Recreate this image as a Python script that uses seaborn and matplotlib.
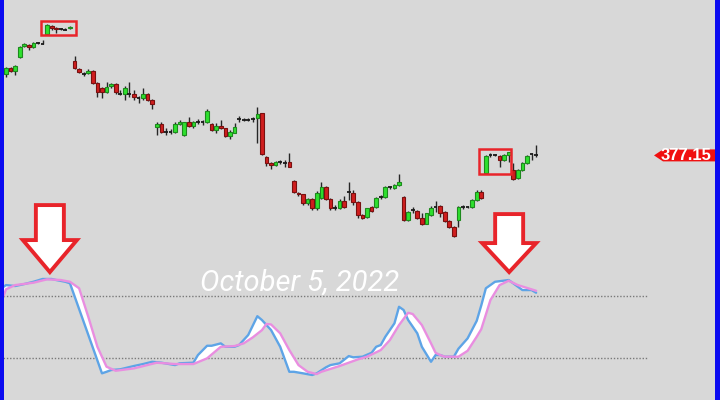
import numpy as np
import matplotlib
matplotlib.use("Agg")
import matplotlib.pyplot as plt
from matplotlib.patches import Rectangle, Polygon
from matplotlib.transforms import Affine2D, blended_transform_factory
import seaborn as sns

# hourly SPY bars, left to right
opens = [
    397.5, 399.0, 398.25, 401.75, 404.5, 404.75, 404.25, 405.12, 405.25, 407.5,
    409.5, 409.0, 408.62, 408.75, 409.0, 400.75, 398.75, 397.75, 397.75, 398.25,
    395.25, 394.0, 392.88, 394.5, 395.0, 392.75, 392.38, 392.5, 392.62, 391.75,
    391.38, 392.5, 391.0, 384.25, 385.12, 383.12, 383.0, 383.0, 385.12, 382.25,
    385.4, 384.5, 385.62, 385.38, 385.4, 384.9, 383.5, 384.5, 383.9, 382.1,
    382.8, 386.12, 386.25, 386.0, 386.12, 386.4, 387.7, 376.7, 375.3, 374.8,
    375.5, 375.4, 375.5, 370.8, 367.8, 367.5, 365.2, 366.2, 363.9, 366.4,
    369.2, 366.25, 364.0, 363.9, 365.75, 368.12, 367.7, 365.6, 362.25, 361.7,
    364.2, 364.3, 366.88, 366.8, 369.25, 368.9, 369.75, 366.8, 361.0, 363.5,
    363.3, 361.4, 360.0, 362.25, 364.38, 364.5, 363.1, 360.8, 359.3, 361.0,
    364.2, 364.25, 364.2, 366.0, 368.1, 372.7, 377.25, 377.2, 377.0, 376.0,
    377.25, 373.5, 371.4, 373.5, 375.2, 377.25, 377.25]
highs = [
    399.25, 399.25, 399.75, 404.5, 405.25, 405.0, 405.5, 405.5, 406.0, 410.0,
    409.75, 409.25, 409.0, 409.0, 409.5, 402.0, 399.0, 398.0, 398.75, 398.5,
    395.5, 394.25, 395.5, 395.25, 395.25, 393.5, 394.38, 395.5, 393.5, 391.88,
    394.0, 392.75, 391.25, 385.62, 385.62, 384.0, 383.75, 385.5, 385.88, 385.62,
    386.8, 385.75, 386.2, 386.0, 388.7, 385.2, 385.2, 386.0, 384.1, 383.5,
    385.3, 387.0, 386.5, 386.38, 386.7, 389.2, 387.8, 377.0, 375.6, 375.75,
    375.88, 376.0, 377.7, 371.0, 368.1, 367.62, 366.5, 366.5, 368.25, 370.5,
    369.5, 366.5, 364.75, 366.25, 367.0, 370.6, 368.5, 365.75, 362.5, 364.12,
    364.5, 366.75, 367.25, 369.5, 369.62, 369.88, 372.4, 367.0, 363.25, 364.3,
    363.5, 362.75, 362.75, 364.5, 365.8, 364.75, 363.25, 361.0, 359.5, 364.5,
    364.75, 364.62, 366.25, 368.38, 368.38, 377.25, 377.75, 377.62, 377.25, 377.5,
    378.1, 375.25, 373.75, 375.4, 377.25, 377.7, 379.75]
lows = [
    396.75, 398.0, 397.25, 401.5, 404.25, 403.5, 404.0, 405.0, 405.0, 407.25,
    408.5, 407.75, 408.5, 408.5, 408.75, 398.75, 397.75, 397.0, 397.5, 395.0,
    391.75, 391.5, 392.75, 394.0, 392.5, 392.25, 391.0, 391.75, 391.0, 390.25,
    391.0, 390.75, 388.75, 382.25, 382.75, 382.25, 382.5, 382.75, 384.75, 382.1,
    384.3, 384.0, 385.0, 384.75, 385.2, 383.3, 382.8, 383.75, 381.8, 381.25,
    382.7, 385.6, 385.75, 385.75, 385.6, 380.3, 377.3, 374.5, 373.7, 374.5,
    375.0, 374.25, 374.25, 367.75, 367.0, 364.75, 364.75, 363.5, 363.5, 366.25,
    366.0, 363.5, 363.5, 363.75, 364.12, 366.0, 364.75, 361.5, 361.25, 361.5,
    363.0, 364.0, 366.25, 366.62, 368.75, 368.75, 369.5, 360.75, 360.75, 362.7,
    361.25, 359.8, 359.88, 362.0, 363.1, 361.8, 360.6, 359.1, 356.75, 359.3,
    363.75, 363.88, 364.0, 365.75, 366.25, 372.5, 376.75, 376.88, 374.3, 375.75,
    375.5, 371.0, 371.25, 373.25, 375.0, 376.0, 376.8]
closes = [
    399.0, 398.25, 399.5, 404.25, 405.0, 404.25, 405.25, 405.25, 405.12, 409.75,
    409.12, 408.75, 408.75, 408.62, 409.25, 399.0, 398.0, 397.62, 398.25, 395.25,
    392.88, 392.88, 394.25, 395.0, 392.88, 392.62, 394.12, 392.38, 391.75, 391.62,
    392.5, 391.0, 390.0, 385.12, 383.12, 383.0, 383.12, 385.12, 385.62, 385.4,
    384.5, 385.6, 385.5, 385.5, 388.3, 383.5, 384.5, 383.9, 382.1, 383.1,
    384.2, 386.25, 386.12, 385.9, 386.25, 387.4, 377.5, 375.3, 374.75, 375.5,
    375.4, 375.3, 374.3, 368.1, 367.5, 365.2, 366.25, 363.9, 367.8, 369.2,
    366.25, 363.9, 363.88, 365.8, 364.3, 368.0, 365.6, 362.25, 361.4, 363.9,
    363.3, 366.4, 366.75, 369.2, 369.2, 369.75, 370.6, 361.0, 363.1, 363.4,
    361.4, 360.0, 362.7, 364.1, 364.25, 362.8, 360.8, 359.3, 357.0, 364.3,
    364.25, 364.2, 366.0, 368.1, 366.4, 377.0, 377.2, 377.25, 376.0, 377.25,
    377.9, 371.2, 373.5, 375.2, 377.0, 377.4, 377.15]

# stochastic %K (blue) and %D (pink), read at bar positions
k_bar = [-1, 0, 2, 4, 6, 8, 10, 11, 13, 14, 21, 22, 23, 25, 28, 30, 32, 34, 37, 38,
         41, 42, 44, 45, 47, 48, 50, 51, 53, 55, 56, 58, 60, 62, 63, 65, 67, 68, 70, 71,
         73, 75, 76, 78, 80, 81, 82, 83, 85, 86, 87, 88, 90, 91, 93, 94, 95, 96, 98, 99,
         101, 103, 104, 105, 107, 110, 111, 113, 115, 116]
k_val = [87.5, 90.6, 89.7, 91.6, 93.8, 96.5, 96.5, 95.5, 93.8, 92.3, 5.2, 6.7, 8.4, 9.1, 12.3, 14.2, 16.4, 15.5, 13.2, 14.9,
         15.5, 22.9, 31.9, 31.9, 34.2, 30.9, 30.9, 32.6, 42.3, 60.5, 56.8, 47.1, 30.9, 6.7, 6.7, 5.2, 3.6, 5.2, 11.0, 13.2,
         14.9, 21.9, 20.7, 21.3, 25.1, 30.9, 32.6, 40.6, 53.6, 69.6, 66.5, 56.8, 43.9, 30.9, 16.4, 22.9, 22.9, 21.3, 21.3, 29.0,
         39.0, 56.0, 71.0, 87.5, 93.8, 95.5, 92.3, 85.8, 85.8, 83.2]
d_bar = [-1, 0, 2, 6, 9, 12, 14, 16, 18, 20, 22, 24, 28, 33, 37, 41, 44, 47, 50, 52,
         54, 56, 57, 58, 60, 62, 64, 66, 68, 69, 73, 77, 79, 82, 84, 86, 88, 89, 91, 93,
         94, 95, 96, 99, 101, 103, 104, 106, 108, 110, 112, 116]
d_val = [74.5, 86.5, 90.6, 92.9, 96.2, 95.5, 93.8, 87.5, 60.0, 30.9, 11.6, 7.7, 10.0, 15.5, 14.2, 14.2, 19.7, 30.9, 31.6, 34.2,
         40.0, 47.0, 53.0, 52.5, 43.9, 27.7, 13.2, 6.7, 4.5, 6.7, 12.3, 18.7, 21.3, 27.7, 37.4, 51.9, 63.8, 62.6, 51.9, 34.2,
         25.1, 22.9, 21.3, 21.3, 27.0, 40.6, 48.0, 76.1, 90.6, 94.8, 90.6, 85.1]
stoch_levels = [80, 20]

# highlighted bar runs (first, last) and arrow targets
box_runs = [(9, 14), (105, 110)]
box_pads = [(1.45, 1.3), (1.45, 0.6)]
arrow_bars = [9.6, 110.1]
date_text = "October 5, 2022"

BG = "#d8d8d8"
GREEN, GREEN_EDGE = "#2ee02e", "#1d8a1d"
RED, RED_EDGE = "#d01e1e", "#7a1010"
MARK = "#e8242a"

sns.set_theme(style="white")
plt.rcParams["font.family"] = ["DejaVu Sans"]

fig = plt.figure(figsize=(7.2, 4), dpi=100, facecolor=BG)
ax1 = fig.add_axes([0, 152 / 400, 1, 248 / 400], facecolor=BG)
ax2 = fig.add_axes([0, 0, 1, 152 / 400], facecolor=BG)
xlim = (-6 / 4.57, 714 / 4.57)
for ax in (ax1, ax2):
    ax.set_xlim(*xlim)
    ax.set_axis_off()
ax1.set_ylim(354, 416)
ax2.set_ylim(-20.6, 126.5)

# candles
o, h, l, c = (np.array(v) for v in (opens, highs, lows, closes))
bars = np.arange(len(o))
doji = np.abs(c - o) < 0.2
up = (c > o) & ~doji
dn = (c < o) & ~doji
ax1.vlines(bars, l, h, color="#262626", lw=1, zorder=2)
ax1.bar(bars[up], (c - o)[up], bottom=o[up], width=0.8, color=GREEN,
        edgecolor=GREEN_EDGE, lw=0.8, zorder=3)
ax1.bar(bars[dn], (o - c)[dn], bottom=c[dn], width=0.8, color=RED,
        edgecolor=RED_EDGE, lw=0.8, zorder=3)
ax1.hlines(c[doji], bars[doji] - 0.42, bars[doji] + 0.42, color="#1a1a1a", lw=1.3, zorder=3)

# boxes around the flat stretches
for (b0, b1), (pl, pr) in zip(box_runs, box_pads):
    sel = (bars >= b0) & (bars <= b1)
    lo, hi = l[sel].min() - 0.05, h[sel].max() + 0.7
    x0, x1 = b0 - pl, b1 + pr
    ax1.add_patch(Rectangle((x0, lo), x1 - x0, hi - lo, fill=False,
                            ec=MARK, lw=1.8, zorder=4))

# last price tag
tr = blended_transform_factory(ax1.transAxes, ax1.transData)
tx, ty = tr.transform((654 / 720, closes[-1]))
ax1.add_patch(Polygon([(0, 0), (9, 6), (62, 6), (62, -6), (9, -6)], closed=True,
                      fc="#f01010", ec="none", transform=Affine2D().translate(tx, ty),
                      clip_on=False, zorder=5))
ax1.text(686 / 720, closes[-1], f"{closes[-1]:.2f}", transform=tr, ha="center",
         va="center", color="white", fontsize=12, fontweight="bold",
         family=["Liberation Sans", "DejaVu Sans"], zorder=6)

# stochastic panel
ax2.hlines(stoch_levels, xlim[0], 140.3, colors="#7a7a7a", lw=1,
           linestyles=(0, (1, 1.3)), zorder=1)
ax2.fill(np.r_[k_bar, d_bar[::-1]], np.r_[k_val, d_val[::-1]], color="white",
         lw=0, zorder=2)
sns.lineplot(x=k_bar, y=k_val, ax=ax2, color="#5ea4e6", lw=1.7, estimator=None,
             sort=False, zorder=3)
sns.lineplot(x=d_bar, y=d_val, ax=ax2, color="#e98ee0", lw=1.7, estimator=None,
             sort=False, zorder=4)
ax2.set_axis_off()

fig.text(200 / 720, 1 - 291 / 400, date_text, ha="left", va="baseline",
         color="white", fontsize=21, style="italic",
         family=["Roboto", "DejaVu Sans"])

# down arrows over the two oscillator peaks
arrow_shapes = [(67, 32), (58, 29)]
for b, (tot, head) in zip(arrow_bars, arrow_shapes):
    ax_, ay_ = ax2.transData.transform((b, 103.2))
    pts = [(0, 0), (27, head), (14, head), (14, tot), (-14, tot), (-14, head), (-27, head)]
    fig.add_artist(Polygon(pts, closed=True, fc="white", ec=MARK, lw=2.8,
                           joinstyle="miter", transform=Affine2D().translate(ax_, ay_),
                           zorder=7))

# blue frame sides
fig.add_artist(Rectangle((0, 0), 3.5 / 720, 1, transform=fig.transFigure,
                         fc="#0b0bf0", ec="none", zorder=8))
fig.add_artist(Rectangle((715 / 720, 0), 5 / 720, 1, transform=fig.transFigure,
                         fc="#0b0bf0", ec="none", zorder=8))

fig.savefig("out.png", dpi=100, facecolor=BG)
